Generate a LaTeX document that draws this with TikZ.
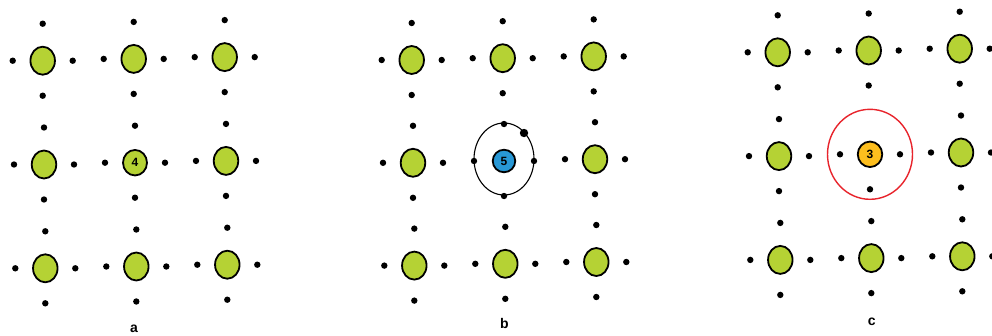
\documentclass[tikz,border=0pt]{standalone}
\usepackage{fontspec}
\setmainfont{Liberation Sans}
\usetikzlibrary{calc,shapes.geometric}

\definecolor{atomgreen}{RGB}{181,210,52}
\definecolor{atomblue}{RGB}{40,152,214}
\definecolor{atomorange}{RGB}{253,190,30}
\definecolor{holered}{RGB}{232,36,44}

\tikzset{
  atom/.style={ellipse, draw=black, line width=1.8pt, fill=atomgreen,
    minimum width=24.5pt, minimum height=28pt, inner sep=0pt,
    font=\bfseries\fontsize{12}{12}\selectfont},
  electron/.style={fill=black},
  panellabel/.style={font=\bfseries\fontsize{14}{14}\selectfont}
}

% four valence electrons round an atom: left, right, top, bottom
\newcommand{\valencedots}[1]{%
  \fill[electron] ($(#1)+(-30,0)$) circle (3.2);
  \fill[electron] ($(#1)+(30,0)$) circle (3.2);
  \fill[electron] ($(#1)+(0,-37)$) circle (3.2);
  \fill[electron] ($(#1)+(0,35)$) circle (3.2);
}

\begin{document}
\begin{tikzpicture}[x=1pt, y=-1pt]
  \useasboundingbox[fill=white] (0,0) rectangle (992,335);

  % 1. Lattice sites of the three panels
  \foreach \p/\ox/\oy/\ry in {a/42.7/60.7/103.8, b/411.7/60/102.8, c/777.7/52.3/103.8} {
    \foreach \i in {0,1,2} {
      \foreach \j in {0,1,2} {
        \coordinate (\p-\i\j) at ($(\ox,\oy)+\i*(91,-1.8)+\j*(1.3,\ry)$);
      }
    }
  }

  % 2. Host atoms with their electrons
  \foreach \p in {a,b,c} {
    \foreach \s in {00,01,02,10,12,20,21,22} {
      \node[atom] (\p-atom-\s) at (\p-\s) {};
      \valencedots{\p-\s}
    }
  }

  % 3. Centre of panel a
  \node[atom, minimum width=24pt, minimum height=25.5pt] (a-atom-11) at (a-11) {4};
  \valencedots{a-11}

  % 4. Centre of panel b: donor with a bound extra electron
  \coordinate (b-orbit) at ($(b-11)+(0,-2)$);
  \draw[line width=1.1pt] (b-orbit) ellipse (30 and 36);
  \node[atom, fill=atomblue, minimum width=22.5pt, minimum height=22.5pt] (b-atom-11) at (b-11) {5};
  \valencedots{b-11}
  \fill[electron] ($(b-orbit)+(20,-26)$) circle (4.2);

  % 5. Centre of panel c: acceptor with a hole
  \coordinate (c-hole) at (c-11);
  \draw[holered, line width=1.4pt] (c-hole) ellipse (42.5 and 45);
  \node[atom, fill=atomorange, minimum width=24.5pt, minimum height=25.5pt] (c-atom-11) at (c-11) {3};
  \fill[electron] ($(c-11)+(-30,0)$) circle (3.2);
  \fill[electron] ($(c-11)+(30,0)$) circle (3.2);
  \fill[electron] ($(c-11)+(0,35)$) circle (3.2);

  % 6. Panel labels
  \node[panellabel] (label-a) at (134,329) {a};
  \node[panellabel] (label-b) at (504.3,323) {b};
  \node[panellabel] (label-c) at (871.7,321.5) {c};
\end{tikzpicture}
\end{document}
